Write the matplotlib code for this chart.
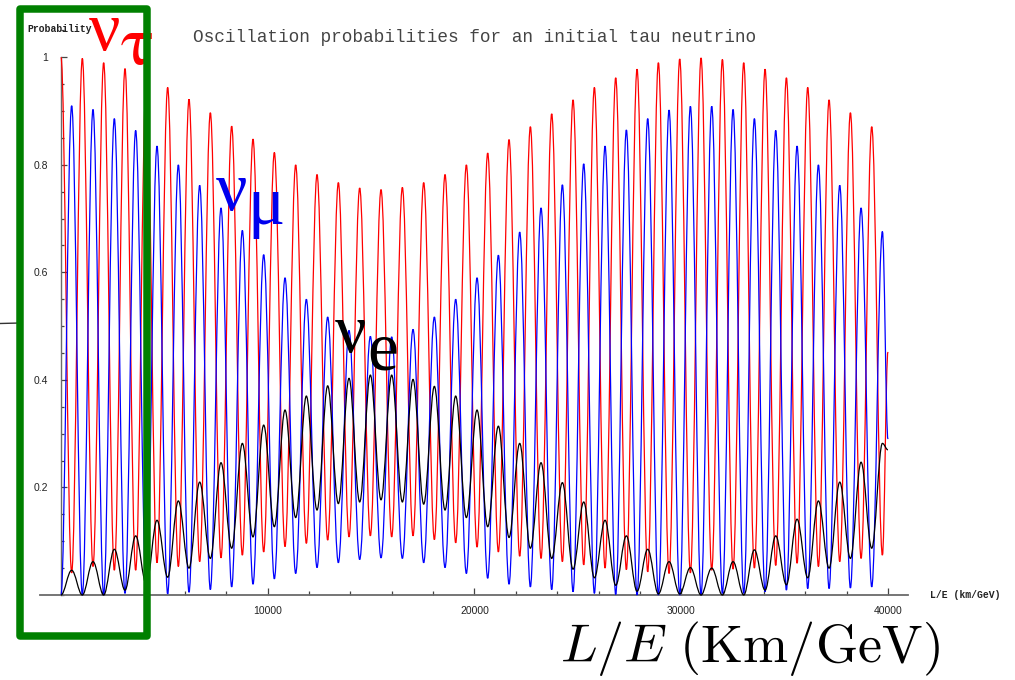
import matplotlib
matplotlib.use("Agg")
import matplotlib.pyplot as plt
from matplotlib.path import Path
from matplotlib.patches import PathPatch, Rectangle
from matplotlib.lines import Line2D
from matplotlib.ticker import FixedLocator, MultipleLocator

# ---------------- data ----------------
# L/E positions (km/GeV) of the tau-survival maxima and minima
tau_peak_LE = [0, 1032, 2064, 3096, 4128, 5160, 6192, 7224, 8256, 9288,
               10320, 11352, 12384, 13416, 14448, 15480, 16512, 17544, 18576, 19608,
               20640, 21672, 22704, 23736, 24768, 25800, 26832, 27864, 28896, 29928,
               30960, 31992, 33024, 34056, 35088, 36120, 37152, 38184, 39216]
tau_trough_LE = [516, 1548, 2580, 3612, 4644, 5676, 6708, 7740, 8772, 9804,
                 10836, 11868, 12900, 13932, 14964, 15996, 17028, 18060, 19092, 20124,
                 21156, 22188, 23220, 24252, 25284, 26316, 27348, 28380, 29412, 30444,
                 31476, 32508, 33540, 34572, 35604, 36636, 37668, 38700, 39732]
end_LE = 40000

# nu_tau probability at those positions
tau_at_peaks = [1.0, 0.998, 0.99, 0.979, 0.962, 0.944, 0.922, 0.897, 0.872, 0.848,
                0.823, 0.80, 0.782, 0.767, 0.757, 0.754, 0.758, 0.767, 0.782, 0.80,
                0.822, 0.847, 0.871, 0.895, 0.921, 0.944, 0.962, 0.978, 0.99, 0.997,
                0.999, 0.996, 0.99, 0.978, 0.962, 0.944, 0.921, 0.897, 0.871]
tau_at_troughs = [0.041, 0.053, 0.046, 0.046, 0.06, 0.053, 0.062, 0.069, 0.074, 0.08,
                  0.09, 0.096, 0.102, 0.108, 0.11, 0.108, 0.11, 0.103, 0.097, 0.089,
                  0.08, 0.072, 0.068, 0.062, 0.056, 0.05, 0.047, 0.043, 0.04, 0.041,
                  0.046, 0.048, 0.05, 0.055, 0.059, 0.053, 0.062, 0.068, 0.074]
tau_end = 0.452

# nu_mu probability
mu_at_peaks = [0.0, 0.0, 0.0, 0.003, 0.002, 0.002, 0.005, 0.01, 0.015, 0.02,
               0.03, 0.04, 0.051, 0.06, 0.066, 0.069, 0.068, 0.06, 0.051, 0.04,
               0.031, 0.02, 0.015, 0.01, 0.006, 0.003, 0.001, 0.0, 0.0, 0.0,
               0.0, 0.003, 0.003, 0.006, 0.009, 0.012, 0.012, 0.013, 0.015]
mu_at_troughs = [0.91, 0.903, 0.886, 0.864, 0.835, 0.80, 0.762, 0.72, 0.678, 0.633,
                 0.59, 0.55, 0.517, 0.492, 0.481, 0.48, 0.494, 0.517, 0.55, 0.59,
                 0.632, 0.675, 0.72, 0.763, 0.802, 0.835, 0.865, 0.886, 0.902, 0.909,
                 0.909, 0.903, 0.886, 0.864, 0.835, 0.80, 0.762, 0.72, 0.676]
mu_end = 0.29

# nu_e probability
e_at_peaks = [0.0, 0.0, 0.0, 0.009, 0.02, 0.033, 0.05, 0.068, 0.087, 0.108,
              0.127, 0.144, 0.158, 0.17, 0.173, 0.177, 0.173, 0.169, 0.158, 0.144,
              0.127, 0.107, 0.087, 0.068, 0.048, 0.032, 0.018, 0.007, 0.002, 0.002,
              0.0, 0.0, 0.0, 0.009, 0.019, 0.032, 0.05, 0.068, 0.087]
e_at_troughs = [0.046, 0.062, 0.085, 0.11, 0.139, 0.175, 0.21, 0.246, 0.282, 0.316,
                0.344, 0.37, 0.389, 0.403, 0.409, 0.409, 0.401, 0.388, 0.37, 0.344,
                0.314, 0.282, 0.246, 0.209, 0.173, 0.139, 0.11, 0.085, 0.062, 0.051,
                0.05, 0.062, 0.084, 0.11, 0.141, 0.175, 0.21, 0.247, 0.282]
e_end = 0.27

x_tick_values = [10000, 20000, 30000, 40000]
x_tick_labels = ["10000", "20000", "30000", "40000"]
y_tick_values = [0.2, 0.4, 0.6, 0.8, 1.0]
y_tick_labels = ["0.2", "0.4", "0.6", "0.8", "1"]

title = "Oscillation probabilities for an initial tau neutrino"

# ---------------- figure ----------------
W, H = 1015, 680
fig = plt.figure(figsize=(W / 100, H / 100), dpi=100)
fig.patch.set_facecolor("white")

def fx(px):
    return px / W

def fy(py):
    return 1 - py / H

ax = fig.add_axes([fx(39.7), 85 / H, (908 - 39.7) / W, 1.05 * 537.7 / H])
ax.set_xlim(-1030, 40970)
ax.set_ylim(0, 1.05)
ax.patch.set_alpha(0)
for s in ["top", "right"]:
    ax.spines[s].set_visible(False)
ax.spines["left"].set_position(("data", 0))
ax.spines["left"].set_bounds(0, 1.0)
ax.spines["left"].set_color("#6a6a6a")
ax.spines["bottom"].set_color("#6a6a6a")
ax.spines["left"].set_linewidth(1.0)
ax.spines["bottom"].set_linewidth(1.3)

ax.xaxis.set_major_locator(FixedLocator(x_tick_values))
ax.xaxis.set_minor_locator(MultipleLocator(2000))
ax.set_xticklabels(x_tick_labels)
ax.yaxis.set_major_locator(FixedLocator(y_tick_values))
ax.yaxis.set_minor_locator(MultipleLocator(0.05))
ax.set_yticklabels(y_tick_labels)
ax.tick_params(axis="x", which="major", direction="in", length=5, width=0.9,
               color="#444444", pad=8.2, labelcolor="#222222")
ax.tick_params(axis="x", which="minor", direction="in", length=3, width=0.9, color="#444444")
ax.tick_params(axis="y", which="major", direction="in", length=4.5, width=0.9,
               color="#444444", pad=9.6, labelcolor="#222222")
ax.tick_params(axis="y", which="minor", direction="in", length=2.5, width=0.9, color="#444444")
for lab in ax.get_xticklabels() + ax.get_yticklabels():
    lab.set_fontfamily("Liberation Sans")
    lab.set_fontsize(7.5)


def oscillation_path(peak_x, peak_y, trough_x, trough_y, x_end, y_end, a=0.3634):
    xs, ys = [], []
    for px_, py_, tx_, ty_ in zip(peak_x, peak_y, trough_x, trough_y):
        xs += [px_, tx_]
        ys += [py_, ty_]
    xs.append(x_end)
    ys.append(y_end)
    verts = [(xs[0], ys[0])]
    codes = [Path.MOVETO]
    for i in range(len(xs) - 1):
        x0, y0, x1, y1 = xs[i], ys[i], xs[i + 1], ys[i + 1]
        dx = x1 - x0
        verts += [(x0 + a * dx, y0), (x1 - a * dx, y1), (x1, y1)]
        codes += [Path.CURVE4] * 3
    return Path(verts, codes)


curves = [
    (tau_at_peaks, tau_at_troughs, tau_end, "#ff0000"),
    (mu_at_peaks, mu_at_troughs, mu_end, "#0000ff"),
    (e_at_peaks, e_at_troughs, e_end, "#000000"),
]
for z, (pk, tr, en, col) in enumerate(curves):
    p = oscillation_path(tau_peak_LE, pk, tau_trough_LE, tr, end_LE, en)
    ax.add_patch(PathPatch(p, fill=False, edgecolor=col, lw=0.9, clip_on=False,
                           zorder=3 + z))

# ---------------- texts ----------------
fig.text(fx(475), fy(37), title, ha="center", va="center",
         family="Liberation Mono", fontsize=12.8, color="#444444")
fig.text(fx(59.5), fy(29.5), "Probability", ha="center", va="center",
         family="Liberation Mono", fontsize=7, fontweight="bold", color="#222222")
fig.text(fx(965), fy(595), "L/E (km/GeV)", ha="center", va="center",
         family="Liberation Mono", fontsize=7, fontweight="bold", color="#222222")

def label(px, py, s, col, fam="Liberation Serif", size=50):
    return fig.text(fx(px), fy(py), s, ha="left", va="baseline", fontsize=size,
                    family=fam, color=col, zorder=20)

label(89, 50, "ν", "#ff0000")
label(121, 64, "τ", "#ff0000", fam="STIXGeneral")
label(216, 210, "ν", "#0000ee")
label(247, 224, "μ", "#0000ee")
label(335, 352, "ν", "#000000")
label(367, 369, "e", "#000000")

t = fig.text(fx(940), fy(662), r"$L/E\ (\mathrm{Km/GeV})$", ha="right", va="baseline",
             fontsize=39, color="#000000")
t.set_math_fontfamily("cm")

# short line at left edge
fig.add_artist(Line2D([fx(0), fx(20)], [fy(323.5), fy(323)], transform=fig.transFigure,
                      color="#333333", lw=1.0))

# green frame
fig.add_artist(Rectangle((fx(19.7), fy(636)), fx(147) - fx(19.7), fy(9) - fy(636),
                         transform=fig.transFigure, fill=False, edgecolor="#008000",
                         lw=5.4, joinstyle="round", zorder=30))

fig.savefig("out.png", dpi=100, facecolor="white")
